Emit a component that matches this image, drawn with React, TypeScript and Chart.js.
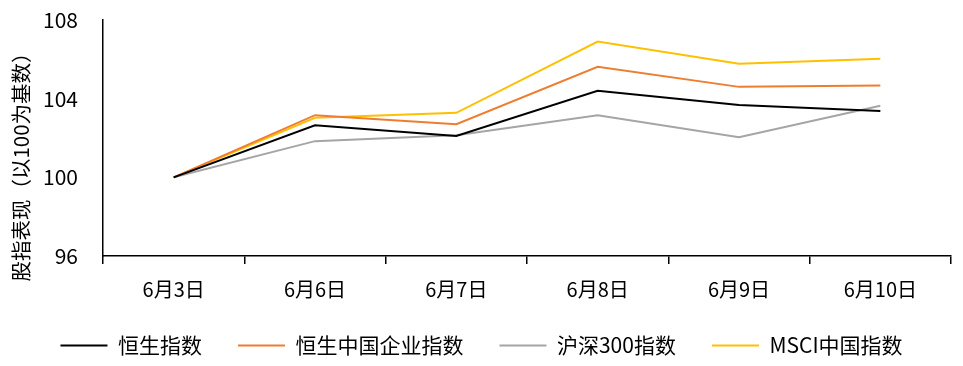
import React, { useEffect, useRef } from "react";
import { Chart, registerables } from "chart.js";

Chart.register(...registerables);

const categories = ["6月3日", "6月6日", "6月7日", "6月8日", "6月9日", "6月10日"];
const hsi = [100, 102.65, 102.1, 104.4, 103.68, 103.37];
const hscei = [100, 103.16, 102.7, 105.62, 104.6, 104.67];
const csi300 = [100, 101.84, 102.14, 103.16, 102.04, 103.64];
const msciChina = [100, 103.03, 103.28, 106.9, 105.78, 106.03];
const seriesNames = ["恒生指数", "恒生中国企业指数", "沪深300指数", "MSCI中国指数"];
const seriesColors = ["#000000", "#ED7D31", "#A5A5A5", "#FFC000"];
const yTicks = [96, 100, 104, 108];
const yTitle = "股指表现（以100为基数）";

const FONT = "'Noto Sans CJK SC', 'Noto Sans', sans-serif";
const LEGEND_H = 65;

const yTitlePlugin = {
  id: "yTitlePlugin",
  afterInit(chart: any) {
    const lg = chart.legend;
    if (lg) {
      const orig = lg.fit.bind(lg);
      lg.fit = function () {
        orig();
        this.height = LEGEND_H;
      };
    }
  },
  afterDraw(chart: any) {
    const ctx = chart.ctx;
    ctx.save();
    ctx.translate(21, 162);
    ctx.rotate(-Math.PI / 2);
    ctx.font = `20.5px ${FONT}`;
    ctx.fillStyle = "#000";
    ctx.textAlign = "center";
    ctx.textBaseline = "middle";
    ctx.fillText(yTitle, 0, 0);
    ctx.restore();
  },
};

export default function App() {
  const ref = useRef<HTMLCanvasElement | null>(null);
  useEffect(() => {
    if (!ref.current) return;
    const data = [hsi, hscei, csi300, msciChina];
    const chart = new Chart(ref.current, {
      type: "line",
      data: {
        labels: categories,
        datasets: data.map((d, i) => ({
          label: seriesNames[i],
          data: d,
          borderColor: seriesColors[i],
          backgroundColor: seriesColors[i],
          borderWidth: 2,
          pointRadius: 0,
          tension: 0,
          fill: false,
        })),
      },
      plugins: [yTitlePlugin],
      options: {
        animation: false,
        responsive: false,
        maintainAspectRatio: false,
        layout: { padding: { top: 20, right: 12, left: 12, bottom: 2 } },
        plugins: {
          tooltip: { enabled: false },
          legend: {
            position: "bottom",
            labels: {
              font: { family: FONT, size: 21 },
              color: "#000",
              boxWidth: 47,
              boxHeight: 2,
              padding: 36,
              generateLabels: (c) =>
                Chart.defaults.plugins.legend.labels.generateLabels(c).map((l) => ({ ...l, lineWidth: 0 })),
            },
          },
        },
        scales: {
          x: {
            type: "category",
            offset: true,
            afterFit: (s: any) => {
              s.height = 43;
            },
            grid: {
              offset: true,
              drawOnChartArea: false,
              drawTicks: true,
              tickLength: 8,
              color: "#000",
              lineWidth: 1.5,
            },
            border: { display: true, color: "#000", width: 1.5 },
            ticks: { font: { family: FONT, size: 20 }, color: "#000", padding: 13 },
          },
          y: {
            min: 96,
            max: 108,
            afterBuildTicks: (axis) => {
              axis.ticks = yTicks.map((v) => ({ value: v }));
            },
            afterFit: (s: any) => {
              s.width = 91;
              s.paddingTop = 0;
              s.paddingBottom = 0;
            },
            grid: { display: false, drawTicks: false },
            border: { display: true, color: "#000", width: 1.5 },
            ticks: { font: { family: FONT, size: 21 }, color: "#000", padding: 25 },
          },
        },
      },
    });
    return () => chart.destroy();
  }, []);
  return (
    <div style={{ position: "absolute", left: 0, top: 0, width: 963, height: 366, background: "#fff" }}>
      <canvas ref={ref} width={963} height={366} style={{ display: "block" }} />
    </div>
  );
}
